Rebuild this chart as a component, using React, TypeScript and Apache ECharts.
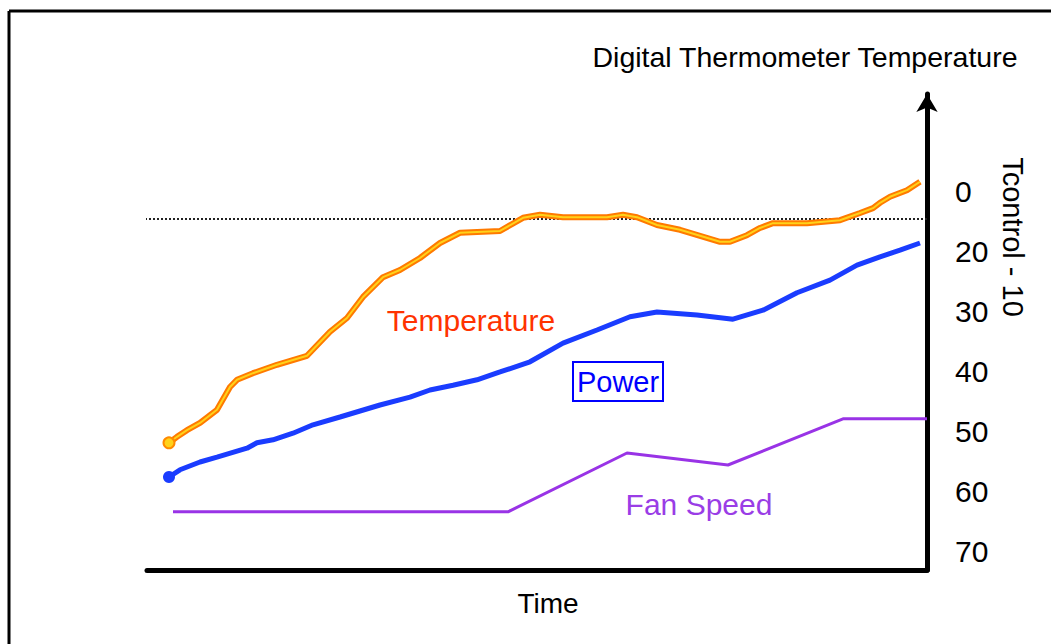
import React, { useEffect, useRef } from "react";
import * as echarts from "echarts";

// Time axis (seconds) and value axis range
const timeMin = 0;
const timeMax = 780;
const valueMin = -6.33;
const valueMax = 73;

const yTickValues = [10, 20, 30, 40, 50, 60, 70];
const yTickLabels = ["0", "20", "30", "40", "50", "60", "70"];

// [time, value]
const temperature: [number, number][] = [
  [22, 51.8], [30, 50.8], [40, 49.7], [53, 48.5], [70, 46.3], [83, 42.5],
  [90, 41.3], [106, 40.2], [130, 38.8], [160, 37.3], [183, 33.3], [200, 31],
  [216, 27.5], [236, 24.2], [253, 23], [273, 21], [293, 18.5], [313, 16.8],
  [353, 16.5], [376, 14.3], [393, 13.8], [416, 14.2], [460, 14.2], [476, 13.8],
  [490, 14.2], [510, 15.5], [533, 16.3], [553, 17.3], [573, 18.3], [583, 18.3],
  [600, 17.2], [613, 16], [626, 15.2], [660, 15.2], [693, 14.7], [713, 13.5],
  [726, 12.7], [733, 11.8], [743, 10.8], [760, 9.7], [773, 8.3],
];

const power: [number, number][] = [
  [22, 57.5], [33, 56.3], [53, 55], [70, 54.2], [100, 52.7], [110, 51.8],
  [126, 51.3], [146, 50.2], [166, 48.8], [193, 47.5], [213, 46.5], [233, 45.5],
  [263, 44.2], [283, 43], [306, 42.2], [330, 41.3], [353, 40], [383, 38.3],
  [416, 35.2], [450, 33], [483, 30.8], [510, 30], [550, 30.5], [586, 31.2],
  [616, 29.7], [650, 26.8], [683, 24.7], [710, 22.2], [733, 20.8], [753, 19.7],
  [773, 18.5],
];

const fanSpeed: [number, number][] = [
  [26, 63.3], [361, 63.3], [480, 53.5], [581, 55.5], [696, 47.8], [780, 47.8],
];

const tControlLevel = 14.5;
const tControlSpan = [-22, 800];

const FONT = "'Liberation Sans', Arial, Helvetica, sans-serif";

export default function App() {
  const ref = useRef<HTMLDivElement>(null);

  useEffect(() => {
    if (!ref.current) return;
    const chart = echarts.init(ref.current, undefined, { renderer: "svg" });

    const withStartMarker = (
      data: [number, number][],
      size: number,
      itemStyle: any
    ) =>
      data.map((d, i) =>
        i === 0
          ? { value: d, symbol: "circle", symbolSize: size, itemStyle }
          : { value: d }
      );

    chart.setOption({
      animation: false,
      backgroundColor: "#ffffff",
      grid: { left: 147, right: 124, top: 94, bottom: 74, containLabel: false },
      xAxis: {
        type: "value",
        position: "bottom",
        min: timeMin,
        max: timeMax,
        axisLine: { show: true, onZero: false, lineStyle: { color: "#000", width: 5 } },
        axisTick: { show: false },
        axisLabel: { show: false },
        splitLine: { show: false },
      },
      yAxis: {
        type: "value",
        position: "right",
        inverse: true,
        min: valueMin,
        max: valueMax,
        axisLine: {
          show: true,
          onZero: false,
          symbol: ["none", "arrow"],
          symbolSize: [16, 18],
          lineStyle: { color: "#000", width: 5 },
        },
        axisTick: { show: false },
        splitLine: { show: false },
        axisLabel: {
          customValues: yTickValues,
          margin: 28,
          color: "#000",
          fontSize: 30,
          fontFamily: FONT,
          formatter: (v: number) => {
            const i = yTickValues.indexOf(v);
            return i >= 0 ? yTickLabels[i] : "";
          },
        },
      },
      series: [
        {
          name: "Tcontrol",
          type: "line",
          clip: false,
          symbol: "none",
          silent: true,
          z: 1,
          lineStyle: { color: "#222", width: 2, type: "dotted" },
          data: [
            [tControlSpan[0], tControlLevel],
            [tControlSpan[1], tControlLevel],
          ],
        },
        {
          name: "Fan Speed",
          type: "line",
          symbol: "none",
          z: 2,
          lineStyle: { color: "#9933e6", width: 3 },
          data: fanSpeed,
        },
        {
          name: "Power",
          type: "line",
          symbol: "none",
          showSymbol: true,
          z: 3,
          lineStyle: { color: "#1a3cff", width: 5 },
          data: withStartMarker(power, 12, { color: "#1a3cff", borderWidth: 0 }),
        },
        {
          name: "Temperature outline",
          type: "line",
          symbol: "none",
          z: 4,
          lineStyle: { color: "#ff7a00", width: 6 },
          data: temperature,
        },
        {
          name: "Temperature",
          type: "line",
          symbol: "none",
          showSymbol: true,
          z: 5,
          lineStyle: { color: "#ffd21a", width: 2 },
          data: withStartMarker(temperature, 11, {
            color: "#ffd21a",
            borderColor: "#ff8a00",
            borderWidth: 2,
          }),
        },
      ],
      graphic: [
        {
          type: "line",
          shape: { x1: 9, y1: 11, x2: 1051, y2: 11 },
          style: { stroke: "#000", lineWidth: 3 },
        },
        {
          type: "line",
          shape: { x1: 9, y1: 11, x2: 9, y2: 644 },
          style: { stroke: "#000", lineWidth: 3 },
        },
        {
          type: "text",
          x: 805,
          y: 57,
          style: {
            text: "Digital Thermometer Temperature",
            fill: "#000",
            font: `28.5px ${FONT}`,
            align: "center",
            verticalAlign: "middle",
          },
        },
        {
          type: "text",
          x: 1013,
          y: 237,
          rotation: -Math.PI / 2,
          style: {
            text: "Tcontrol - 10",
            fill: "#000",
            font: `29px ${FONT}`,
            align: "center",
            verticalAlign: "middle",
          },
        },
        {
          type: "text",
          x: 548,
          y: 603,
          style: {
            text: "Time",
            fill: "#000",
            font: `28px ${FONT}`,
            align: "center",
            verticalAlign: "middle",
          },
        },
        {
          type: "text",
          x: 471,
          y: 320,
          style: {
            text: "Temperature",
            fill: "#ff3300",
            font: `30px ${FONT}`,
            align: "center",
            verticalAlign: "middle",
          },
        },
        {
          type: "rect",
          shape: { x: 573, y: 362, width: 90, height: 39 },
          style: { fill: "none", stroke: "#0000ff", lineWidth: 2 },
        },
        {
          type: "text",
          x: 618,
          y: 382,
          style: {
            text: "Power",
            fill: "#0000ff",
            font: `29px ${FONT}`,
            align: "center",
            verticalAlign: "middle",
          },
        },
        {
          type: "text",
          x: 699,
          y: 504,
          style: {
            text: "Fan Speed",
            fill: "#9a3de6",
            font: `30px ${FONT}`,
            align: "center",
            verticalAlign: "middle",
          },
        },
      ],
    });

    return () => chart.dispose();
  }, []);

  return (
    <div
      ref={ref}
      style={{ position: "fixed", left: 0, top: 0, width: 1051, height: 644 }}
    />
  );
}
